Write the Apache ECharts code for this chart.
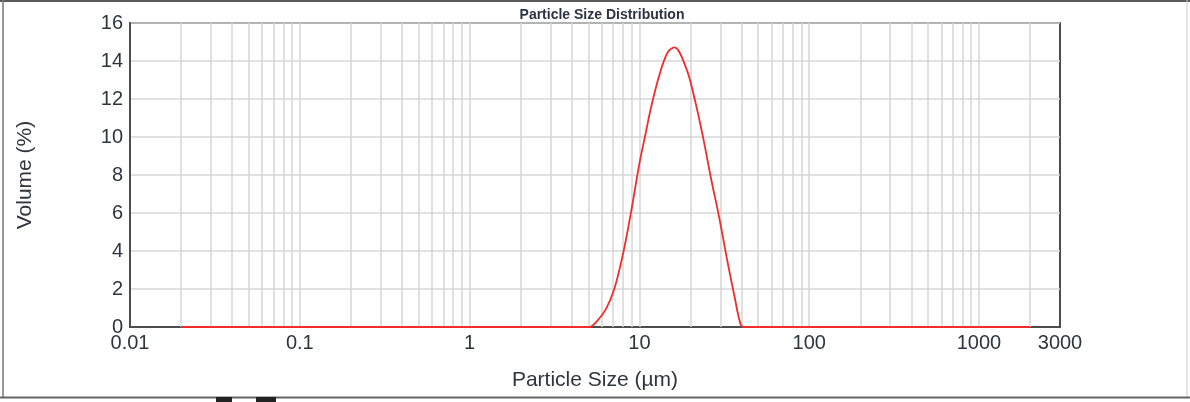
<!DOCTYPE html>
<html>
<head>
<meta charset="utf-8">
<script src="https://cdn.jsdelivr.net/npm/echarts@6/dist/echarts.min.js"></script>
<style>
  html, body { margin: 0; padding: 0; background: #fff; }
  #chart { width: 1190px; height: 402px; }
</style>
</head>
<body>
<div id="chart"></div>
<script>
// Particle sizes (µm) and volume (%)
const sizes = [0.02, 5.08, 5.56, 6.37, 7.13, 7.98, 8.94, 10.0, 10.95, 11.71, 13.1, 14.66, 16.06, 18.82, 21.07, 23.57, 26.4, 29.58, 33.04, 36.2, 39.6, 41.5, 2000];
const volumes = [0, 0, 0.26, 0.97, 2.03, 3.78, 6.07, 8.6, 10.3, 11.55, 13.25, 14.45, 14.72, 13.65, 12.07, 10.1, 7.83, 5.72, 3.43, 1.67, 0.09, 0, 0];

// vertical grid lines of the log axis (1..9 x 10^n)
const gridSizes = [0.02,0.03,0.04,0.05,0.06,0.07,0.08,0.09,
  0.1,0.2,0.3,0.4,0.5,0.6,0.7,0.8,0.9,
  1,2,3,4,5,6,7,8,9,
  10,20,30,40,50,60,70,80,90,
  100,200,300,400,500,600,700,800,900,
  1000,2000];

const xMin = 0.01, xMax = 3000;
const yMin = 0, yMax = 16, yInterval = 2;

const title = 'Particle Size Distribution';
const xName = 'Particle Size (µm)';
const yName = 'Volume (%)';

const FONT = "'Liberation Sans', Arial, sans-serif";
const TXT = '#30343f';
const GRIDC = '#d6d6d6';
const FRAME = '#4d4d4d';

const chart = echarts.init(document.getElementById('chart'), null, { renderer: 'canvas' });

chart.setOption({
  backgroundColor: '#fff',
  animation: false,
  title: {
    text: title,
    left: 597, top: 3, textAlign: 'center',
    textStyle: { fontFamily: FONT, fontSize: 14, fontWeight: 'bold', color: '#2c3345' }
  },
  grid: {
    left: 130, right: 130, top: 23, bottom: 75,
    show: true, borderColor: FRAME, borderWidth: 2, backgroundColor: 'transparent'
  },
  xAxis: {
    type: 'log', logBase: 10, min: xMin, max: xMax,
    name: xName, nameLocation: 'middle', nameGap: 43,
    nameTextStyle: { fontFamily: FONT, fontSize: 21, color: TXT },
    axisLine: { show: true, lineStyle: { color: FRAME, width: 2 } },
    axisTick: { show: false },
    splitLine: { show: false },
    axisLabel: {
      fontFamily: FONT, fontSize: 20, color: TXT, margin: 6,
      showMinLabel: true, showMaxLabel: true,
      formatter: v => String(+Number(v).toPrecision(6))
    }
  },
  yAxis: {
    type: 'value', min: yMin, max: yMax, interval: yInterval,
    name: yName, nameLocation: 'middle', nameGap: 94,
    nameTextStyle: { fontFamily: FONT, fontSize: 21, color: TXT },
    axisLine: { show: true, lineStyle: { color: FRAME, width: 2 } },
    axisTick: { show: false },
    splitLine: { show: true, lineStyle: { color: GRIDC, width: 1.5 } },
    axisLabel: { fontFamily: FONT, fontSize: 20, color: TXT, margin: 7 }
  },
  series: [
    {
      type: 'line', data: [], z: 1, silent: true,
      markLine: {
        silent: true, symbol: ['none', 'none'], label: { show: false },
        lineStyle: { color: GRIDC, width: 1.5, type: 'solid' },
        data: gridSizes.map(v => ({ xAxis: v }))
      }
    },
    {
      type: 'line', z: 5,
      data: sizes.map((s, i) => [s, volumes[i]]),
      showSymbol: false, smooth: 0.35,
      lineStyle: { color: '#f22c2c', width: 1.8 },
      itemStyle: { color: '#f22c2c' }
    }
  ],
  graphic: [
    { type: 'line', shape: { x1: 0, y1: 1, x2: 1190, y2: 1 }, style: { stroke: '#5a5a5a', lineWidth: 2 } },
    { type: 'line', shape: { x1: 3, y1: 0, x2: 3, y2: 398 }, style: { stroke: '#777', lineWidth: 1.5 } },
    { type: 'line', shape: { x1: 1187, y1: 0, x2: 1187, y2: 398 }, style: { stroke: '#ccc', lineWidth: 1 } },
    { type: 'line', shape: { x1: 0, y1: 397.5, x2: 1190, y2: 397.5 }, style: { stroke: '#666', lineWidth: 2 } },
    { type: 'rect', shape: { x: 216, y: 397, width: 16, height: 5 }, style: { fill: '#222' } },
    { type: 'rect', shape: { x: 256, y: 397, width: 20, height: 5 }, style: { fill: '#222' } }
  ]
});
</script>
</body>
</html>
